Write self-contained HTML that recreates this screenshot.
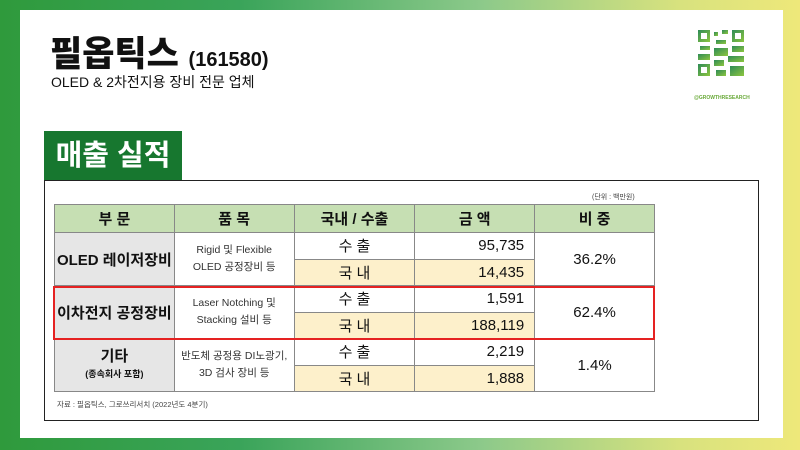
<!DOCTYPE html>
<html><head><meta charset="utf-8"><style>
*{margin:0;padding:0;box-sizing:border-box}
body{width:800px;height:450px;overflow:hidden;position:relative;font-family:"Liberation Sans","Noto Sans CJK KR",sans-serif;background:linear-gradient(90deg,#2f9a3c 0%,#3aa45a 30%,#8cc98a 60%,#d8e27e 85%,#eee87a 100%)}
.panel{position:absolute;left:20px;top:10px;width:763px;height:428px;background:#fff}
.abs{position:absolute}
table{border-collapse:collapse;position:absolute;left:54px;top:204px;width:601px;font-family:"Liberation Sans","Noto Sans CJK KR",sans-serif}
td{border:1px solid #888;text-align:center;color:#111}
.h td{background:#c6dfb3;height:28px;font-weight:bold;font-size:15px}
.r td{height:26.5px}
.g{background:#e6e6e6;font-weight:bold;font-size:15px}
.y{background:#fdf0cb}
.num{text-align:right;padding-right:10px;font-size:15px}
.sm{font-size:10.5px;line-height:17px;color:#333}
.io{font-size:15px}
</style></head><body>
<div class="panel"></div>
<div class="abs" style="left:50px;top:26px;font-size:35px;font-weight:900;color:#111">필옵틱스 <span style="font-size:20px;font-weight:bold">(161580)</span></div>
<div class="abs" style="left:51px;top:72px;font-size:14px;color:#111">OLED &amp; 2차전지용 장비 전문 업체</div>
<svg class="abs" style="left:698px;top:30px" width="46" height="58" viewBox="0 0 46 58">
<defs><linearGradient id="q" x1="0" y1="0" x2="1" y2="1"><stop offset="0" stop-color="#2e8b57"/><stop offset="1" stop-color="#8dc63f"/></linearGradient></defs>
<g fill="url(#q)"><rect x="0" y="0" width="12" height="12"/><rect x="34" y="0" width="12" height="12"/><rect x="0" y="34" width="12" height="12"/>
<rect x="16" y="2" width="4" height="4"/><rect x="24" y="0" width="6" height="4"/><rect x="18" y="10" width="10" height="4"/><rect x="2" y="16" width="10" height="4"/><rect x="16" y="18" width="14" height="8"/><rect x="34" y="16" width="12" height="6"/><rect x="30" y="26" width="16" height="6"/><rect x="16" y="30" width="10" height="6"/><rect x="18" y="40" width="10" height="6"/><rect x="32" y="36" width="14" height="10"/><rect x="0" y="24" width="12" height="6"/></g>
<g fill="#fff"><rect x="3" y="3" width="6" height="6"/><rect x="37" y="3" width="6" height="6"/><rect x="3" y="37" width="6" height="6"/></g>
</svg>
<div class="abs" style="left:694px;top:95px;font-size:5px;color:#6aaa3a;font-weight:bold">@GROWTHRESEARCH</div>
<div class="abs" style="left:44px;top:131px;width:138px;height:50px;background:#17772f;color:#fff;font-size:29px;font-weight:bold;text-align:center;line-height:50px">매출 실적</div>
<div class="abs" style="left:44px;top:180px;width:715px;height:241px;border:1.5px solid #222"></div>
<div class="abs" style="left:592px;top:192px;font-size:7px;color:#444">(단위 : 백만원)</div>
<table>
<tr class="h"><td style="width:120px">부 문</td><td style="width:120px">품 목</td><td style="width:121px">국내 / 수출</td><td style="width:120px">금 액</td><td style="width:120px">비 중</td></tr>
<tr class="r"><td rowspan="2" class="g">OLED 레이저장비</td><td rowspan="2" class="sm">Rigid 및 Flexible<br>OLED 공정장비 등</td><td class="io">수 출</td><td class="num">95,735</td><td rowspan="2" class="io">36.2%</td></tr>
<tr class="r"><td class="y io">국 내</td><td class="y num">14,435</td></tr>
<tr class="r"><td rowspan="2" class="g">이차전지 공정장비</td><td rowspan="2" class="sm">Laser Notching 및<br>Stacking 설비 등</td><td class="io">수 출</td><td class="num">1,591</td><td rowspan="2" class="io">62.4%</td></tr>
<tr class="r"><td class="y io">국 내</td><td class="y num">188,119</td></tr>
<tr class="r"><td rowspan="2" class="g" style="line-height:16px">기타<br><span style="font-size:9px">(종속회사 포함)</span></td><td rowspan="2" class="sm">반도체 공정용 DI노광기,<br>3D 검사 장비 등</td><td class="io">수 출</td><td class="num">2,219</td><td rowspan="2" class="io">1.4%</td></tr>
<tr class="r"><td class="y io">국 내</td><td class="y num">1,888</td></tr>
</table>
<div class="abs" style="left:53px;top:286px;width:602px;height:54px;border:2px solid #e52222"></div>
<div class="abs" style="left:57px;top:399px;font-size:7.5px;color:#444">자료 : 필옵틱스, 그로쓰리서치 (2022년도 4분기)</div>
</body></html>
